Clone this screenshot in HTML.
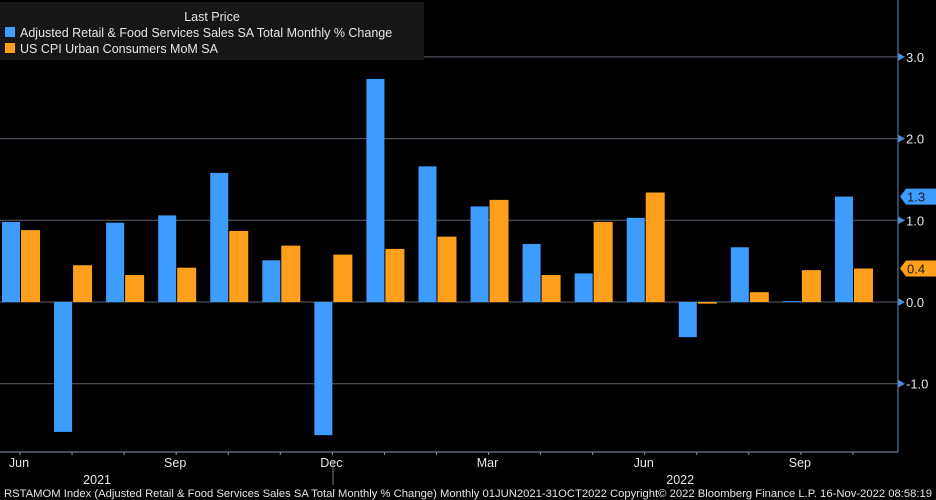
<!DOCTYPE html>
<html><head><meta charset="utf-8"><style>
html,body{margin:0;padding:0;background:#000;width:936px;height:500px;overflow:hidden;font-family:"Liberation Sans",sans-serif}
svg text{font-family:"Liberation Sans",sans-serif}
</style></head><body>
<svg id="chart" width="936" height="500" viewBox="0 0 936 500" xmlns="http://www.w3.org/2000/svg">
<rect x="0" y="0" width="936" height="500" fill="#000"/>
<g id="grid"></g><g id="bars"></g><g id="axes"></g>
<g>
<rect x="0" y="2" width="424" height="58" fill="#161616"/>
<text x="212" y="21" fill="#e6e6e6" font-size="12.5" text-anchor="middle">Last Price</text>
<rect x="5" y="27" width="10" height="10" fill="#3f9cff"/>
<text x="20" y="37" fill="#e6e6e6" font-size="12.5">Adjusted Retail &amp; Food Services Sales SA Total Monthly % Change</text>
<rect x="5" y="43" width="10" height="10" fill="#ff9f1c"/>
<text x="20" y="53" fill="#e6e6e6" font-size="12.5">US CPI Urban Consumers MoM SA</text>
</g>
<text x="4" y="497" fill="#e6e6e6" font-size="11" textLength="928" lengthAdjust="spacingAndGlyphs">RSTAMOM Index (Adjusted Retail &amp; Food Services Sales SA Total Monthly % Change)  Monthly 01JUN2021-31OCT2022 Copyright© 2022 Bloomberg Finance L.P. 16-Nov-2022 08:58:19</text>
</svg>
<script>
const months = ["Jun","Jul","Aug","Sep","Oct","Nov","Dec","Jan","Feb","Mar","Apr","May","Jun","Jul","Aug","Sep","Oct"];
const retail = [0.98,-1.59,0.97,1.06,1.58,0.51,-1.63,2.73,1.66,1.17,0.71,0.35,1.03,-0.43,0.67,0.01,1.29];
const cpi = [0.88,0.45,0.33,0.42,0.87,0.69,0.58,0.65,0.80,1.25,0.33,0.98,1.34,-0.02,0.12,0.39,0.41];
const yTicks = [-1,0,1,2,3];
const yTickLabels = ["-1.0","0.0","1.0","2.0","3.0"];
const xLabelIdx = [0,3,6,9,12,15];
const years = [{label:"2021",i:1.5},{label:"2022",i:12.7}];

const NS="http://www.w3.org/2000/svg";
const y0=302, ppu=81.7, slot0=1, slotW=52.06, axisX=898, axisY=452;
const Y=v=>y0-v*ppu;
const X=i=>slot0+i*slotW;
function mk(tag,attrs,parent){const e=document.createElementNS(NS,tag);for(const k in attrs)e.setAttribute(k,attrs[k]);parent.appendChild(e);return e;}
const grid=document.getElementById('grid'),bars=document.getElementById('bars'),axes=document.getElementById('axes');
yTicks.forEach((t,k)=>{
  const l=mk('line',{x1:0,x2:axisX,y1:Y(t),y2:Y(t),stroke:'#5a6470','stroke-width':1},grid);
  
  
  mk('path',{d:`M${axisX} ${Y(t)-4}L${axisX+7} ${Y(t)}L${axisX} ${Y(t)+4}Z`,fill:'#4a8fd8'},axes);
  const tx=mk('text',{x:axisX+8,y:Y(t)+5,fill:'#e6e6e6','font-size':13},axes);
  tx.textContent=yTickLabels[k];
  
  
});
retail.forEach((v,i)=>{
  const r=mk('rect',{x:X(i)+1,width:18,y:Math.min(Y(v),y0),height:Math.abs(Y(v)-y0),fill:'#3f9cff'},bars);
  
  
});
cpi.forEach((v,i)=>{
  const r=mk('rect',{x:X(i)+20,width:19,y:Math.min(Y(v),y0),height:Math.max(1,Math.abs(Y(v)-y0)),fill:'#ff9f1c'},bars);
  
  
});
mk('line',{x1:axisX,x2:axisX,y1:0,y2:axisY,stroke:'#5b86b8','stroke-width':1},axes);
mk('line',{x1:0,x2:axisX,y1:axisY,y2:axisY,stroke:'#8a96a4','stroke-width':1},axes);
months.forEach((m,i)=>{
  mk('line',{x1:X(i)+19,x2:X(i)+19,y1:axisY,y2:axisY+3,stroke:'#8a96a4'},axes);
});
xLabelIdx.forEach(i=>{
  const t=mk('text',{x:X(i)+18,y:467,fill:'#e6e6e6','font-size':12.5,'text-anchor':'middle'},axes);
  t.textContent=months[i];
  
  
});
years.forEach(yr=>{
  const t=mk('text',{x:X(yr.i)+18,y:484,fill:'#e6e6e6','font-size':12.5,'text-anchor':'middle'},axes);
  t.textContent=yr.label;
  
  
});
mk('line',{x1:333,x2:333,y1:460,y2:485,stroke:'#777'},axes);
function tag(v,color,txt,name){
  const y=Y(v);
  const g=mk('g',{},axes);
  
  
  mk('path',{d:`M${axisX+2} ${y}L${axisX+8} ${y-8}H936V${y+8}H${axisX+8}Z`,fill:color},g);
  const t=mk('text',{x:axisX+9,y:y+5,fill:'#1a1a1a','font-size':13},g);
  t.textContent=txt;
}
tag(retail[retail.length-1],'#3f9cff',retail[retail.length-1].toFixed(1),'last-price-tag-retail');
tag(cpi[cpi.length-1],'#ff9f1c',cpi[cpi.length-1].toFixed(1),'last-price-tag-cpi');
</script>
</body></html>
